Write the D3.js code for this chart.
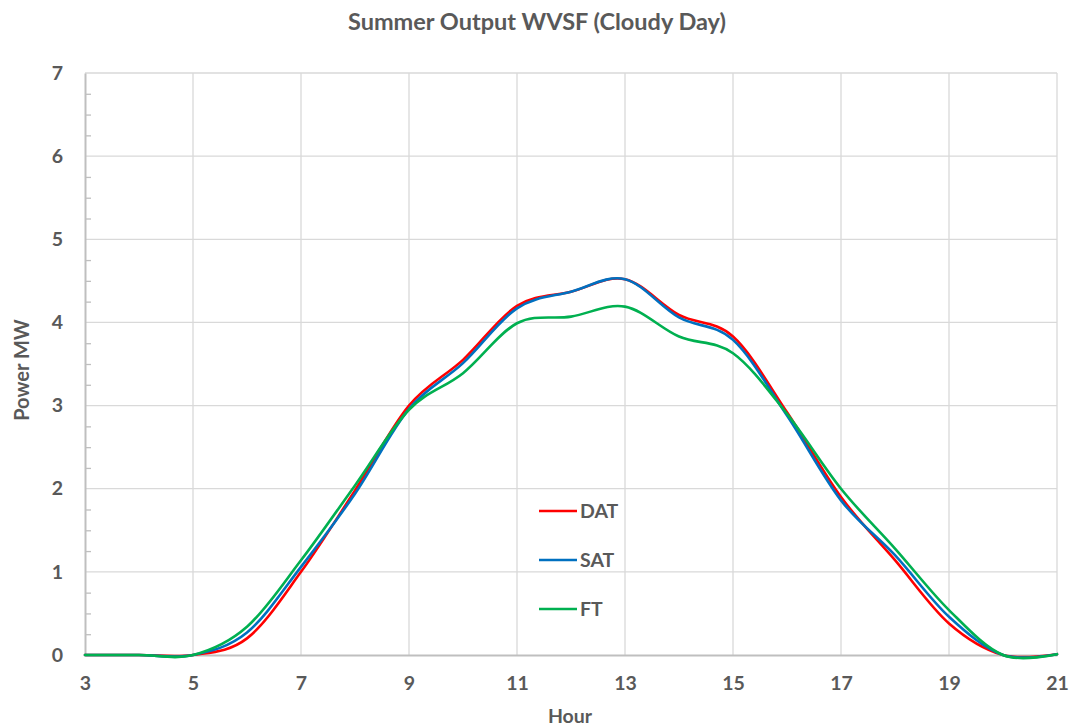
<!DOCTYPE html>
<html>
<head>
<meta charset="utf-8">
<script src="https://cdn.jsdelivr.net/npm/d3@7"></script>
<style>
  body { margin: 0; background: #fff; }
  text { font-family: Lato, "Open Sans", sans-serif; font-weight: bold; fill: #595959; }
</style>
</head>
<body>
<div class="chart"></div>
<script>
// hourly values
var hours = [3, 4, 5, 6, 7, 8, 9, 10, 11, 12, 13, 14, 15, 16, 17, 18, 19, 20, 21];
var datValues = [0, 0, 0, 0.2, 1.0, 1.98, 3.0, 3.55, 4.2, 4.37, 4.52, 4.09, 3.83, 2.92, 1.9, 1.14, 0.38, 0, 0.01];
var satValues = [0, 0, 0, 0.27, 1.06, 1.94, 2.96, 3.51, 4.17, 4.37, 4.52, 4.06, 3.79, 2.88, 1.86, 1.2, 0.46, 0, 0.01];
var ftValues = [0, 0, 0, 0.34, 1.14, 2.04, 2.95, 3.39, 3.99, 4.07, 4.19, 3.83, 3.63, 2.9, 2.0, 1.28, 0.54, 0, 0.01];
var seriesNames = ["DAT", "SAT", "FT"];
var seriesColors = ["#ff0000", "#0070c0", "#00b050"];
var xTicks = [3, 5, 7, 9, 11, 13, 15, 17, 19, 21];
var yTicks = [0, 1, 2, 3, 4, 5, 6, 7];

var svgWidth = 1082;
var svgHeight = 728;
var margin = { top: 73, right: 25, bottom: 73, left: 85 };
var width = svgWidth - margin.left - margin.right;
var height = svgHeight - margin.top - margin.bottom;

var svg = d3.select(".chart")
  .append("svg")
  .attr("width", svgWidth)
  .attr("height", svgHeight);

var chartGroup = svg.append("g")
  .attr("transform", `translate(${margin.left}, ${margin.top})`);

var xScale = d3.scaleLinear().domain([3, 21]).range([0, width]);
var yScale = d3.scaleLinear().domain([0, 7]).range([height, 0]);

// gridlines
chartGroup.append("g")
  .selectAll("line.hgrid")
  .data(yTicks.slice(1))
  .enter()
  .append("line")
  .attr("x1", 0)
  .attr("x2", width)
  .attr("y1", d => yScale(d))
  .attr("y2", d => yScale(d))
  .attr("stroke", "#d9d9d9")
  .attr("stroke-width", 1.3);

chartGroup.append("g")
  .selectAll("line.vgrid")
  .data(xTicks.slice(1))
  .enter()
  .append("line")
  .attr("x1", d => xScale(d))
  .attr("x2", d => xScale(d))
  .attr("y1", 0)
  .attr("y2", height)
  .attr("stroke", "#d9d9d9")
  .attr("stroke-width", 1.3);

// minor ticks on y axis, inside the plot
var minorTicks = d3.range(0, 7.001, 0.25).filter(d => d % 1 !== 0);
var yMinor = d3.axisRight(yScale).tickValues(minorTicks).tickSize(6).tickFormat("");
var yMinorG = chartGroup.append("g").call(yMinor);
yMinorG.select(".domain").remove();
yMinorG.selectAll("line").attr("stroke", "#bfbfbf").attr("stroke-width", 1.3);

// y axis
var yAxis = d3.axisLeft(yScale).tickValues(yTicks).tickFormat(d3.format("d")).tickSize(0).tickPadding(22);
var yAxisG = chartGroup.append("g").call(yAxis);
yAxisG.select(".domain").attr("stroke", "#bfbfbf").attr("stroke-width", 2);
yAxisG.selectAll("text").style("font-size", "19.5px");

// x axis
var xAxis = d3.axisBottom(xScale).tickValues(xTicks).tickSize(0).tickPadding(21);
var xAxisG = chartGroup.append("g")
  .attr("transform", `translate(0, ${height})`)
  .call(xAxis);
xAxisG.select(".domain").attr("stroke", "#bfbfbf").attr("stroke-width", 2);
xAxisG.selectAll("text").style("font-size", "19.5px");

// lines
var line = d3.line()
  .x(d => xScale(d.hour))
  .y(d => yScale(d.value))
  .curve(d3.curveCardinal.tension(0));

var allSeries = [datValues, satValues, ftValues];
allSeries.forEach(function(vals, i) {
  var pts = hours.map((h, j) => ({ hour: h, value: vals[j] }));
  chartGroup.append("path")
    .datum(pts)
    .attr("d", line)
    .attr("fill", "none")
    .attr("stroke", seriesColors[i])
    .attr("stroke-width", 2.6)
    .attr("stroke-linecap", "round");
});

// legend
var legend = svg.append("g").attr("transform", "translate(539, 511)");
seriesNames.forEach(function(name, i) {
  var g = legend.append("g").attr("transform", `translate(0, ${i * 49})`);
  g.append("line")
    .attr("x1", 0).attr("x2", 38)
    .attr("y1", 0).attr("y2", 0)
    .attr("stroke", seriesColors[i])
    .attr("stroke-width", 2.6);
  g.append("text")
    .attr("x", 41)
    .attr("y", 7)
    .style("font-size", "19.5px")
    .text(name);
});

// title and axis labels
svg.append("text")
  .attr("x", 537)
  .attr("y", 30)
  .attr("text-anchor", "middle")
  .style("font-size", "23.5px")
  .text("Summer Output WVSF (Cloudy Day)");

svg.append("text")
  .attr("transform", "translate(29, 370) rotate(-90)")
  .attr("text-anchor", "middle")
  .style("font-size", "20px")
  .text("Power MW");

svg.append("text")
  .attr("x", 570)
  .attr("y", 723)
  .attr("text-anchor", "middle")
  .style("font-size", "19.5px")
  .text("Hour");
</script>
</body>
</html>
